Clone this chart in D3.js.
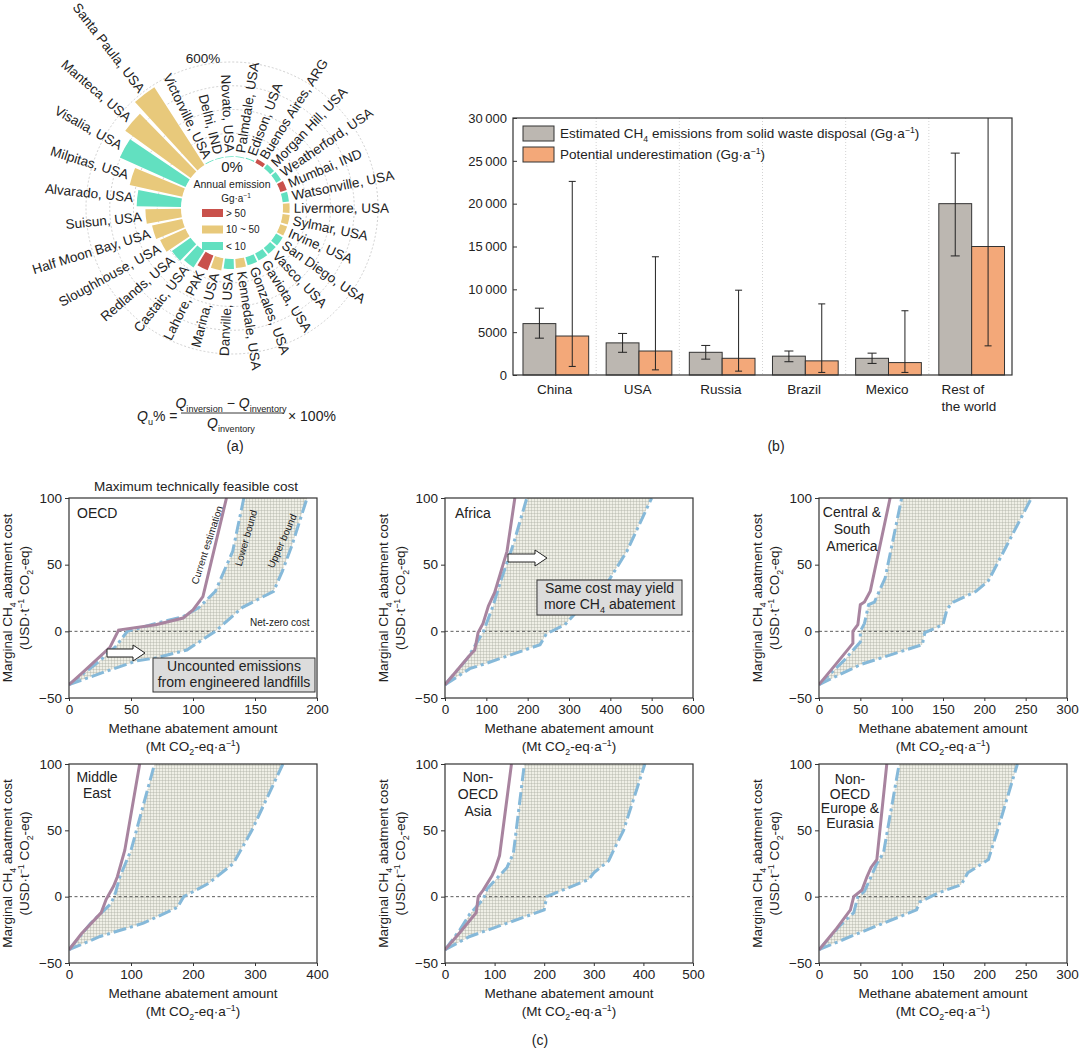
<!DOCTYPE html>
<html>
<head>
<meta charset="utf-8">
<script src="https://cdn.jsdelivr.net/npm/d3@7"></script>
<style>
  body { margin: 0; background: #fff; }
  svg text { font-family: "Liberation Sans", Arial, sans-serif; fill: #222; }
</style>
</head>
<body>
<svg id="fig" width="1080" height="1052"></svg>
<script>
// ---------- (a) polar bars ----------
const sites = ['Victorville, USA', 'Delhi, IND', 'Novato, USA', 'Palmdale, USA', 'Edison, USA',
  'Buenos Aires, ARG', 'Morgan Hill, USA', 'Weatherford, USA', 'Mumbai, IND', 'Watsonville, USA',
  'Livermore, USA', 'Sylmar, USA', 'Irvine, USA', 'San Diego, USA', 'Vasco, USA', 'Gaviota, USA',
  'Gonzales, USA', 'Kennedale, USA', 'Danville, USA', 'Marina, USA', 'Lahore, PAK', 'Castaic, USA',
  'Redlands, USA', 'Sloughhouse, USA', 'Half Moon Bay, USA', 'Suisun, USA', 'Alvarado, USA',
  'Milpitas, USA', 'Visalia, USA', 'Manteca, USA', 'Santa Paula, USA'];
const siteValues = [5, 4, 4, 5, 8, 25, 32, 35, 42, 40, 42, 45, 45, 48, 48, 50, 52, 57, 63, 78,
  100, 125, 145, 175, 195, 225, 280, 340, 455, 510, 585];
const siteClass = ['t', 't', 't', 't', 't', 'r', 't', 't', 'r', 't', 'y', 'y', 'y', 't', 't', 't',
  't', 'y', 't', 'y', 'r', 't', 't', 'y', 'y', 'y', 't', 'y', 't', 'y', 'y'];
const gridLevels = [150, 300, 450, 600];
const legendKeys = ['r', 'y', 't'];
const legendLabels = ['> 50', '10 ~ 50', '< 10'];

// ---------- (b) bars ----------
const countries = ['China', 'USA', 'Russia', 'Brazil', 'Mexico', 'Rest of the world'];
const estimated = [6000, 3750, 2650, 2200, 1950, 20000];
const estLow = [4300, 2650, 1850, 1550, 1350, 13900];
const estHigh = [7800, 4850, 3450, 2800, 2550, 25900];
const under = [4550, 2800, 1950, 1650, 1450, 15000];
const underLow = [1000, 600, 450, 300, 300, 3400];
const underHigh = [22600, 13800, 9900, 8300, 7500, 30000];
const barTicks = [0, 5000, 10000, 15000, 20000, 25000, 30000];
const barTickLabels = ['0', '5000', '10\u2009000', '15\u2009000', '20\u2009000', '25\u2009000', '30\u2009000'];

// ---------- (c) abatement curves [amount, cost] ----------
const oecdCurrent = [[0,-40],[12,-30],[33,-12],[40,1],[70,5],[92,10],[100,16],[108,26],[127,100]];
const oecdLower = [[0,-40],[25,-22],[38,-11],[47,0],[70,6],[92,11],[105,18],[118,30],[132,60],[141,100]];
const oecdUpper = [[0,-40],[30,-30],[55,-22],[70,-20],[95,-14],[118,0],[140,18],[165,30],[172,45],[180,65],[192,100]];

const africaCurrent = [[0,-40],[60,-18],[72,-14],[80,-1],[92,6],[105,19],[120,29],[150,60],[169,100]];
const africaLower = [[0,-40],[55,-20],[93,0],[115,18],[135,38],[165,65],[198,100]];
const africaUpper = [[0,-40],[60,-28],[100,-24],[230,-10],[245,-2],[290,5],[320,15],[390,35],[440,60],[500,100]];

const csaCurrent = [[0,-40],[20,-25],[41,-9],[41,0],[47,5],[50,20],[55,22],[62,30],[86,100]];
const csaLower = [[0,-40],[30,-22],[50,-8],[50,0],[55,6],[60,20],[67,22],[80,40],[100,100]];
const csaUpper = [[0,-40],[50,-25],[125,-10],[128,-1],[150,5],[155,17],[163,22],[190,30],[205,38],[257,100]];

const meCurrent = [[0,-40],[20,-28],[52,-12],[60,-2],[72,8],[78,15],[90,35],[114,100]];
const meLower = [[0,-40],[35,-20],[68,-5],[75,3],[82,15],[100,35],[138,100]];
const meUpper = [[0,-40],[50,-30],[120,-20],[175,-8],[185,0],[225,10],[265,25],[295,50],[345,100]];

const asiaCurrent = [[0,-40],[30,-27],[63,-12],[67,0],[77,5],[95,16],[100,20],[110,31],[134,100]];
const asiaLower = [[0,-40],[30,-25],[50,-13],[77,-2],[85,6],[125,22],[138,33],[160,100]];
const asiaUpper = [[0,-40],[50,-30],[200,-10],[205,0],[290,13],[300,18],[330,27],[340,35],[360,50],[403,100]];

const eurCurrent = [[0,-40],[20,-25],[38,-10],[42,0],[52,5],[58,15],[63,22],[70,28],[82,100]];
const eurLower = [[0,-40],[25,-22],[42,-12],[47,0],[55,4],[70,25],[78,33],[97,100]];
const eurUpper = [[0,-40],[50,-27],[118,-10],[122,-4],[145,3],[172,9],[180,18],[205,28],[215,48],[240,100]];

const regionNames = [['OECD'], ['Africa'], ['Central &', 'South', 'America'], ['Middle', 'East'],
  ['Non-', 'OECD', 'Asia'], ['Non-', 'OECD', 'Europe &', 'Eurasia']];
const xTicksC = [[0,50,100,150,200], [0,100,200,300,400,500,600], [0,50,100,150,200,250,300],
  [0,100,200,300,400], [0,100,200,300,400,500], [0,50,100,150,200,250,300]];
const yTicksC = [-50, 0, 50, 100];

const colors = { r: '#c9514b', y: '#e8c97b', t: '#62e0c0' };

const svg = d3.select('#fig');

// text with _{sub}, ^{sup} and *italic*
function rich(sel, str, size) {
  const parts = str.split(/(_\{[^}]*\}|\^\{[^}]*\}|\*[^*]*\*)/).filter(s => s.length);
  let shift = 0;
  parts.forEach(p => {
    let dy = 0, txt = p, fs = null, it = false;
    if (p.startsWith('_{')) { txt = p.slice(2, -1); dy = size * 0.3; fs = size * 0.65; }
    else if (p.startsWith('^{')) { txt = p.slice(2, -1); dy = -size * 0.38; fs = size * 0.65; }
    else if (p.startsWith('*')) { txt = p.slice(1, -1); it = true; }
    const t = sel.append('tspan').text(txt).attr('dy', dy - shift);
    if (fs) t.attr('font-size', fs);
    if (it) t.attr('font-style', 'italic');
    shift = dy;
  });
  return sel;
}

// ===================== (a) =====================
drawPolar();
function drawPolar() {
  const cx = 232, cy = 208, r0 = 51;
  const g = svg.append('g').attr('transform', `translate(${cx},${cy})`);
  const rScale = d3.scaleLinear().domain([0, 600]).range([r0, 146]);
  const step = 360 / sites.length;
  const angle = i => -26 + i * step;
  const rad = d => d * Math.PI / 180;

  g.selectAll('.grid').data(gridLevels).join('circle')
    .attr('r', d => rScale(d))
    .attr('fill', 'none').attr('stroke', '#c4c4c4')
    .attr('stroke-width', 0.8).attr('stroke-dasharray', '2,2');

  const arc = d3.arc();
  g.selectAll('.bar').data(sites).join('path')
    .attr('d', (d, i) => {
      const a = rad(angle(i)), h = rad(step * 0.42);
      return arc({ innerRadius: r0, outerRadius: rScale(siteValues[i]), startAngle: a - h, endAngle: a + h });
    })
    .attr('fill', (d, i) => colors[siteClass[i]]);

  g.append('circle').attr('r', r0 - 0.5).attr('fill', '#fff');

  g.selectAll('.lab').data(sites).join('text')
    .attr('font-size', 13.5)
    .attr('dominant-baseline', 'central')
    .attr('transform', (d, i) => {
      const deg = ((angle(i) % 360) + 360) % 360;
      const r = rScale(siteValues[i]) + 4;
      const x = r * Math.sin(rad(deg)), y = -r * Math.cos(rad(deg));
      const rot = deg > 0 && deg < 180 ? deg - 90 : deg + 90;
      return `translate(${x},${y}) rotate(${rot})`;
    })
    .attr('text-anchor', (d, i) => {
      const deg = ((angle(i) % 360) + 360) % 360;
      return deg > 0 && deg < 180 ? 'start' : 'end';
    })
    .text(d => d);

  const a600 = rad(-11), r600 = rScale(600) + 6;
  g.append('text').attr('x', r600 * Math.sin(a600)).attr('y', -r600 * Math.cos(a600))
    .attr('text-anchor', 'middle').attr('dominant-baseline', 'central')
    .attr('font-size', 13.5).text('600%');
  g.append('text').attr('x', 0).attr('y', -36).attr('text-anchor', 'middle')
    .attr('font-size', 15).text('0%');
  g.append('text').attr('x', 0).attr('y', -20).attr('text-anchor', 'middle')
    .attr('font-size', 10.5).text('Annual emission');
  rich(g.append('text').attr('x', 4).attr('y', -6).attr('text-anchor', 'middle')
    .attr('font-size', 10), 'Gg·a^{−1}', 10);

  legendKeys.forEach((k, i) => {
    const y = 1 + i * 16.5;
    g.append('rect').attr('x', -30).attr('y', y).attr('width', 21).attr('height', 8)
      .attr('fill', colors[k]);
    g.append('text').attr('x', -6).attr('y', y + 7.5).attr('font-size', 10).text(legendLabels[i]);
  });

  // formula
  const f = svg.append('g');
  rich(f.append('text').attr('x', 137).attr('y', 421).attr('font-size', 14), '*Q*_{u}% =', 14);
  rich(f.append('text').attr('x', 231).attr('y', 408).attr('text-anchor', 'middle')
    .attr('font-size', 14), '*Q*_{inversion} − *Q*_{inventory}', 14);
  f.append('line').attr('x1', 181).attr('x2', 284).attr('y1', 413).attr('y2', 413)
    .attr('stroke', '#222').attr('stroke-width', 0.9);
  rich(f.append('text').attr('x', 231).attr('y', 428).attr('text-anchor', 'middle')
    .attr('font-size', 14), '*Q*_{inventory}', 14);
  f.append('text').attr('x', 288).attr('y', 421).attr('font-size', 14).text('× 100%');
  svg.append('text').attr('x', 235).attr('y', 451).attr('text-anchor', 'middle')
    .attr('font-size', 14).text('(a)');
}

// ===================== (b) =====================
drawBars();
function drawBars() {
  const left = 513, right = 1012, top = 118, bottom = 375;
  const x = d3.scaleBand().domain(countries).range([left, right]);
  const y = d3.scaleLinear().domain([0, 30000]).range([bottom, top]);
  const bw = x.bandwidth();
  const g = svg.append('g');

  countries.slice(1).forEach(c => {
    g.append('line').attr('x1', x(c)).attr('x2', x(c)).attr('y1', top).attr('y2', bottom)
      .attr('stroke', '#c8c8c8').attr('stroke-width', 0.8).attr('stroke-dasharray', '1,2');
  });

  const series = [
    { vals: estimated, lo: estLow, hi: estHigh, off: 0.12, fill: '#bcb7b1', cap: 4.5 },
    { vals: under, lo: underLow, hi: underHigh, off: 0.515, fill: '#f3a879', cap: 3.5 }
  ];
  series.forEach(s => {
    g.selectAll(null).data(countries).join('rect')
      .attr('x', c => x(c) + s.off * bw).attr('width', 0.395 * bw)
      .attr('y', (c, i) => y(s.vals[i])).attr('height', (c, i) => y(0) - y(s.vals[i]))
      .attr('fill', s.fill).attr('stroke', '#333').attr('stroke-width', 1);
    countries.forEach((c, i) => {
      const mx = x(c) + (s.off + 0.1975) * bw;
      const eg = g.append('g').attr('stroke', '#222').attr('stroke-width', 1);
      eg.append('line').attr('x1', mx).attr('x2', mx).attr('y1', y(s.lo[i])).attr('y2', y(s.hi[i]));
      [s.lo[i], s.hi[i]].forEach(v => {
        if (v < 30000) eg.append('line').attr('x1', mx - s.cap).attr('x2', mx + s.cap)
          .attr('y1', y(v)).attr('y2', y(v));
      });
    });
  });

  g.append('rect').attr('x', left).attr('y', top).attr('width', right - left)
    .attr('height', bottom - top).attr('fill', 'none').attr('stroke', '#333').attr('stroke-width', 1.2);

  const ax = g.append('g').attr('transform', `translate(${left},0)`)
    .call(d3.axisLeft(y).tickValues(barTicks).tickSize(-4).tickPadding(6)
      .tickFormat((d, i) => barTickLabels[i]));
  ax.select('.domain').remove();
  ax.selectAll('text').attr('font-size', 13).attr('fill', '#222')
    .style('font-family', '"Liberation Sans", Arial, sans-serif');
  ax.selectAll('line').attr('stroke', '#333');

  countries.forEach(c => {
    const mx = x(c) + bw / 2;
    if (c === 'Rest of the world') {
      g.append('text').attr('x', mx - 29).attr('y', 394).attr('font-size', 13.5).text('Rest of');
      g.append('text').attr('x', mx - 29).attr('y', 411).attr('font-size', 13.5).text('the world');
    } else {
      g.append('text').attr('x', mx).attr('y', 394).attr('text-anchor', 'middle')
        .attr('font-size', 13.5).text(c);
    }
  });

  const legend = [['#bcb7b1', 'Estimated CH_{4} emissions from solid waste disposal (Gg·a^{−1})'],
                  ['#f3a879', 'Potential underestimation (Gg·a^{−1})']];
  legend.forEach((l, i) => {
    const ly = 126 + i * 21;
    g.append('rect').attr('x', 523).attr('y', ly).attr('width', 31).attr('height', 15)
      .attr('fill', l[0]).attr('stroke', '#333');
    rich(g.append('text').attr('x', 560).attr('y', ly + 12).attr('font-size', 13.5), l[1], 13.5);
  });

  svg.append('text').attr('x', 776).attr('y', 451).attr('text-anchor', 'middle')
    .attr('font-size', 14).text('(b)');
}

// ===================== (c) =====================
const panels = [
  { cur: oecdCurrent, lo: oecdLower, up: oecdUpper, xMax: 200 },
  { cur: africaCurrent, lo: africaLower, up: africaUpper, xMax: 600 },
  { cur: csaCurrent, lo: csaLower, up: csaUpper, xMax: 300 },
  { cur: meCurrent, lo: meLower, up: meUpper, xMax: 400 },
  { cur: asiaCurrent, lo: asiaLower, up: asiaUpper, xMax: 500 },
  { cur: eurCurrent, lo: eurLower, up: eurUpper, xMax: 300 }
];
const frames = [[69, 317, 498, 698], [445, 693, 498, 698], [819, 1067, 498, 698],
                [69, 317, 764, 963], [445, 693, 764, 963], [819, 1067, 764, 963]];
// where region names sit: [x, first baseline, line step, anchor]
const namePos = [[77, 518, 16, 'start'], [455, 518, 16, 'start'], [852, 517, 17, 'middle'],
                 [97, 782, 16, 'middle'], [478, 782, 17, 'middle'], [850, 784, 14.7, 'middle']];

const defs = svg.append('defs');
const pat = defs.append('pattern').attr('id', 'hatch').attr('patternUnits', 'userSpaceOnUse')
  .attr('width', 3).attr('height', 3);
pat.append('rect').attr('width', 3).attr('height', 3).attr('fill', '#efefe6');
pat.append('path').attr('d', 'M0,0.25H3M0.25,0V3').attr('stroke', '#a9aaa0').attr('stroke-width', 0.5);

panels.forEach((p, k) => drawPanel(p, k));

function drawPanel(p, k) {
  const [l, r, t, b] = frames[k];
  const x = d3.scaleLinear().domain([0, p.xMax]).range([l, r]);
  const y = d3.scaleLinear().domain([-50, 100]).range([b, t]);
  const g = svg.append('g');
  const clipId = 'clip' + k;
  defs.append('clipPath').attr('id', clipId).append('rect')
    .attr('x', l).attr('y', t).attr('width', r - l).attr('height', b - t);
  const line = d3.line().x(d => x(d[0])).y(d => y(d[1]));
  const inner = g.append('g').attr('clip-path', `url(#${clipId})`);

  inner.append('path').attr('d', line(p.lo.concat(p.up.slice().reverse())) + 'Z')
    .attr('fill', 'url(#hatch)');
  inner.append('line').attr('x1', l).attr('x2', r).attr('y1', y(0)).attr('y2', y(0))
    .attr('stroke', '#333').attr('stroke-width', 0.8).attr('stroke-dasharray', '3,2.5');
  [p.lo, p.up].forEach(d => inner.append('path').attr('d', line(d)).attr('fill', 'none')
    .attr('stroke', '#86b9d9').attr('stroke-width', 3).attr('stroke-dasharray', '13,4,3,4'));
  inner.append('path').attr('d', line(p.cur)).attr('fill', 'none')
    .attr('stroke', '#a8849f').attr('stroke-width', 3);

  g.append('rect').attr('x', l).attr('y', t).attr('width', r - l).attr('height', b - t)
    .attr('fill', 'none').attr('stroke', '#333').attr('stroke-width', 1.2);

  const font = '"Liberation Sans", Arial, sans-serif';
  const ax = g.append('g').attr('transform', `translate(0,${b})`)
    .call(d3.axisBottom(x).tickValues(xTicksC[k]).tickSize(3).tickPadding(3));
  const ay = g.append('g').attr('transform', `translate(${l},0)`)
    .call(d3.axisLeft(y).tickValues(yTicksC).tickSize(4).tickPadding(3)
      .tickFormat(d => d < 0 ? '−' + (-d) : d));
  [ax, ay].forEach(a => {
    a.select('.domain').remove();
    a.selectAll('text').attr('font-size', 13.5).attr('fill', '#222').style('font-family', font);
    a.selectAll('line').attr('stroke', '#333');
  });

  const mx = (l + r) / 2, my = (t + b) / 2;
  g.append('text').attr('x', mx).attr('y', b + 35).attr('text-anchor', 'middle')
    .attr('font-size', 13.5).text('Methane abatement amount');
  rich(g.append('text').attr('x', mx).attr('y', b + 53).attr('text-anchor', 'middle')
    .attr('font-size', 13.5), '(Mt CO_{2}-eq·a^{−1})', 13.5);
  rich(g.append('text').attr('transform', `translate(${l - 57},${my}) rotate(-90)`)
    .attr('text-anchor', 'middle').attr('font-size', 13.5), 'Marginal CH_{4} abatment cost', 13.5);
  rich(g.append('text').attr('transform', `translate(${l - 40},${my}) rotate(-90)`)
    .attr('text-anchor', 'middle').attr('font-size', 13.5), '(USD·t^{−1} CO_{2}-eq)', 13.5);

  const [nx, ny, ns, na] = namePos[k];
  regionNames[k].forEach((s, i) => g.append('text').attr('x', nx).attr('y', ny + i * ns)
    .attr('text-anchor', na).attr('font-size', 14).text(s));
}

function blockArrow(x0, cy, len) {
  const head = 12, hs = 4, hh = 8;
  const xs = x0 + len - head;
  return `M${x0},${cy - hs}H${xs}V${cy - hh}L${x0 + len},${cy}L${xs},${cy + hh}V${cy + hs}H${x0}Z`;
}
function noteBox(x0, y0, w, h, lines) {
  svg.append('rect').attr('x', x0).attr('y', y0).attr('width', w).attr('height', h)
    .attr('fill', '#dcdcdc').attr('stroke', '#333').attr('stroke-width', 1);
  lines.forEach((s, i) => rich(svg.append('text').attr('x', x0 + w / 2).attr('y', y0 + 13 + i * 16)
    .attr('text-anchor', 'middle').attr('font-size', 14), s, 14));
}

// OECD notes
svg.append('text').attr('x', 196).attr('y', 491).attr('text-anchor', 'middle')
  .attr('font-size', 13.5).text('Maximum technically feasible cost');
[['Current estimation', 207, 545, -72], ['Lower bound', 246, 538, -74], ['Upper bound', 282, 541, -66]]
  .forEach(d => svg.append('text').attr('transform', `translate(${d[1]},${d[2]}) rotate(${d[3]})`)
    .attr('text-anchor', 'middle').attr('dominant-baseline', 'central')
    .attr('font-size', 10).text(d[0]));
svg.append('text').attr('x', 250).attr('y', 626).attr('font-size', 10).text('Net-zero cost');
svg.append('path').attr('d', blockArrow(107, 653, 38)).attr('fill', '#fff')
  .attr('stroke', '#222').attr('stroke-width', 1);
noteBox(153, 658, 162, 34, ['Uncounted emissions', 'from engineered landfills']);

// Africa notes
svg.append('path').attr('d', blockArrow(508, 558, 39)).attr('fill', '#fff')
  .attr('stroke', '#222').attr('stroke-width', 1);
noteBox(537, 580, 145, 35, ['Same cost may yield', 'more CH_{4} abatement']);

svg.append('text').attr('x', 540).attr('y', 1045).attr('text-anchor', 'middle')
  .attr('font-size', 14).text('(c)');
</script>
</body>
</html>
